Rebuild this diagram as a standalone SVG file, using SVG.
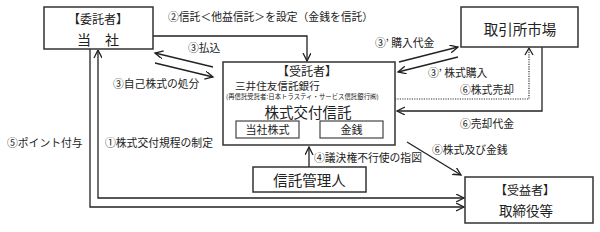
<svg xmlns="http://www.w3.org/2000/svg" width="600" height="232" viewBox="0 0 600 232">
<defs>
<style>
text{font-family:"Noto Sans CJK JP","Noto Sans CJK SC",sans-serif;fill:#222;}
.box{fill:#fff;stroke:#333;stroke-width:1.5;}
.ibox{fill:#fff;stroke:#444;stroke-width:1.2;}
.ln{fill:none;stroke:#222;stroke-width:1.3;}
.dot{fill:none;stroke:#333;stroke-width:1.2;stroke-dasharray:1.2 1.2;}
.lb{font-size:10.8px;}
.mid{text-anchor:middle;}
</style>
<marker id="ah" markerWidth="10" markerHeight="10" refX="8" refY="4" orient="auto" markerUnits="userSpaceOnUse">
<polyline points="0,0 8,4 0,8" fill="none" stroke="#222" stroke-width="1.3"/>
</marker>
<marker id="ahs" markerWidth="10" markerHeight="10" refX="0" refY="4" orient="auto" markerUnits="userSpaceOnUse">
<polyline points="8,0 0,4 8,8" fill="none" stroke="#222" stroke-width="1.3"/>
</marker>
</defs>
<rect width="600" height="232" fill="#fff"/>

<g id="connectors">
<polyline class="ln" points="153,36 307,36 307,61" marker-end="url(#ah)"/>
<line class="ln" x1="213" y1="67" x2="155" y2="53" marker-end="url(#ah)"/>
<line class="ln" x1="155" y1="63" x2="213" y2="77" marker-end="url(#ah)"/>
<line class="ln" x1="399" y1="62" x2="458" y2="47" marker-end="url(#ah)"/>
<line class="ln" x1="458" y1="57" x2="398" y2="72" marker-end="url(#ah)"/>
<polyline class="dot" points="395,99 529,99 529,48"/>
<polyline class="ln" points="525,55 529,48 533,55"/>
<polyline class="ln" points="542,47 542,111 397,111" marker-end="url(#ah)"/>
<line class="ln" x1="407" y1="142" x2="461" y2="175" marker-end="url(#ah)"/>
<line class="ln" x1="309" y1="167" x2="309" y2="147" marker-end="url(#ah)"/>
<polyline class="ln" points="90,49 90,207 464,207" marker-end="url(#ah)"/>
<polyline class="ln" points="98,50 98,198 464,198" marker-start="url(#ahs)" marker-end="url(#ah)"/>
</g>

<g id="itakusha">
<rect class="box" x="44" y="7" width="109" height="42"/>
<text class="mid" x="98" y="24" font-size="12">【委託者】</text>
<text class="mid" x="98" y="45" font-size="14">当　社</text>
</g>

<g id="torihikisho">
<rect class="box" x="461" y="7" width="117" height="40"/>
<text class="mid" x="520" y="35" font-size="14.5">取引所市場</text>
</g>

<g id="jutakusha">
<rect class="box" x="223" y="62" width="172" height="83"/>
<text class="mid" x="307" y="75.5" font-size="12">【受託者】</text>
<text x="235" y="90" font-size="10.6">三井住友信託銀行</text>
<text x="226" y="98.5" font-size="6.4">(再信託受託者:日本トラスティ・サービス信託銀行㈱)</text>
<text class="mid" x="308" y="118" font-size="14.5">株式交付信託</text>
<g id="toshakabu">
<rect class="ibox" x="236" y="121" width="63" height="17"/>
<text class="mid" x="267.5" y="134" font-size="11">当社株式</text>
</g>
<g id="kinsen">
<rect class="ibox" x="320" y="121" width="63" height="17"/>
<text class="mid" x="351.5" y="134" font-size="11">金銭</text>
</g>
</g>

<g id="kanrinin">
<rect class="box" x="253" y="167" width="113" height="25"/>
<text class="mid" x="309.5" y="186" font-size="14.5">信託管理人</text>
</g>

<g id="jueki">
<rect class="box" x="465" y="177" width="128" height="46"/>
<text class="mid" x="525" y="195" font-size="12">【受益者】</text>
<text class="mid" x="526" y="216" font-size="13.5">取締役等</text>
</g>

<g id="labels">
<text class="lb" x="168" y="21">②信託＜他益信託＞を設定（金銭を信託）</text>
<text class="lb" x="188" y="52">③払込</text>
<text class="lb" x="113" y="88">③自己株式の処分</text>
<text class="lb" x="375" y="47">③’ 購入代金</text>
<text class="lb" x="428" y="77">③’ 株式購入</text>
<text class="lb" x="460" y="94">⑥株式売却</text>
<text class="lb" x="460" y="128">⑥売却代金</text>
<text class="lb" x="432" y="154">⑥株式及び金銭</text>
<text class="lb" x="314" y="162">④議決権不行使の指図</text>
<text class="lb" x="7" y="147">⑤ポイント付与</text>
<text class="lb" x="105" y="147">①株式交付規程の制定</text>
</g>
</svg>
